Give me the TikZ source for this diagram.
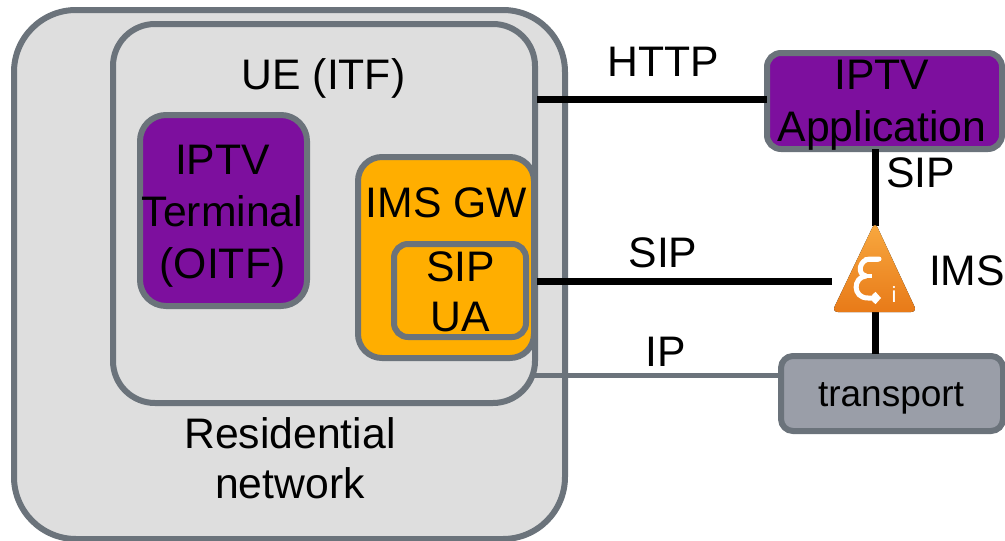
\documentclass[tikz,border=0pt]{standalone}
\usepackage{fontspec}
\setmainfont{Liberation Sans}
\usetikzlibrary{arrows.meta}
\definecolor{edgegray}{HTML}{6B737B}
\definecolor{lightfill}{HTML}{DEDEDE}
\definecolor{purplefill}{HTML}{7D0F9E}
\definecolor{orangefill}{HTML}{FFAE00}
\definecolor{transfill}{HTML}{9A9EA8}
\definecolor{imstop}{HTML}{F8A940}
\definecolor{imsbot}{HTML}{E87A18}
\tikzset{
  box/.style={draw=edgegray,line width=6pt,inner sep=0pt,anchor=north west},
  lbl/.style={font=\fontsize{42.7}{50}\selectfont,inner sep=0pt,align=center,text=black},
  lblw/.style={font=\fontsize{42.7}{52}\selectfont,inner sep=0pt,align=center,text=black},
  sig/.style={line width=7pt,draw=black},
  ipline/.style={line width=5pt,draw=edgegray},
}
\begin{document}
\begin{tikzpicture}[x=1pt,y=-1pt]
\useasboundingbox (0,0) rectangle (1005,541);
% containers
\node[box,fill=lightfill,rounded corners=62pt,minimum width=551pt,minimum height=529pt] (res) at (11,7) {};
\node[box,rounded corners=42pt,minimum width=422pt,minimum height=379pt] (ue) at (110,21) {};
\node[box,fill=purplefill,rounded corners=26pt,minimum width=167pt,minimum height=191pt] (oitf) at (137,112) {};
\node[box,fill=orangefill,rounded corners=24pt,minimum width=176pt,minimum height=201pt] (gw) at (355,154) {};
\node[box,rounded corners=14pt,minimum width=132pt,minimum height=93pt] (ua) at (391,241) {};
\node[box,fill=purplefill,rounded corners=14pt,minimum width=235pt,minimum height=96pt] (app) at (764,50) {};
\node[box,fill=transfill,rounded corners=12pt,minimum width=222pt,minimum height=75pt] (tr) at (778,353) {};
% IMS node
\node[inner sep=0pt,minimum width=84pt,minimum height=88pt] (ims) at (874,268.5) {};
\coordinate (imsw) at (832,281);
\coordinate (gwe) at (537,281);
\coordinate (httpa) at (537,99);
\coordinate (httpb) at (767,99);
\coordinate (ipa) at (533,375);
% connectors
\draw[sig] (httpa) -- (httpb);
\draw[sig] (gwe) -- (imsw);
\draw[sig] (875,149) -- (875,226);
\draw[sig] (875,311) -- (875,354);
\draw[ipline] (ipa) -- (tr.west |- ipa);
% IMS triangle
\fill[top color=imstop,bottom color=imsbot,rounded corners=6pt]
  (875,222) -- (917,312) -- (832,312) -- cycle;
\draw[white,line width=5pt,line cap=round,line join=round,-{Straight Barb[length=4pt,width=9pt]}]
  (879,259) -- (870,259) .. controls (860,259) and (856,274) .. (866,276)
  .. controls (853,277) and (852,298) .. (868,298) -- (881,298);
\draw[white,line width=5pt,line cap=round] (866,259.5) -- (877,259.5);
\draw[white,line width=4pt] (866,276) -- (872,276);
\node[font=\fontsize{22}{22}\selectfont,text=white,inner sep=0pt] (ilabel) at (894,295) {i};
% text
\node[lbl] (t-ue) at (323.5,78) {UE (ITF)};
\node[lblw] (t-oitf) at (222.5,216) {IPTV\\Terminal\\(OITF)};
\node[lbl] (t-gw) at (446.5,203) {IMS GW};
\node[lbl] (t-ua) at (460.5,292) {SIP\\UA};
\node[lbl] (t-res) at (290,458) {Residential\\network};
\node[lbl] (t-http) at (663,62) {HTTP};
\node[lblw] (t-app) at (882,105.5) {IPTV\\Application};
\node[lbl] (t-sip1) at (920.5,172.5) {SIP};
\node[lbl] (t-sip2) at (663,252.5) {SIP};
\node[lbl] (t-ims) at (967,271) {IMS};
\node[lbl] (t-ip) at (665.5,351.5) {IP};
\node[font=\fontsize{37}{40}\selectfont,inner sep=0pt] (t-tr) at (891,398.5) {transport};
\end{tikzpicture}
\end{document}
